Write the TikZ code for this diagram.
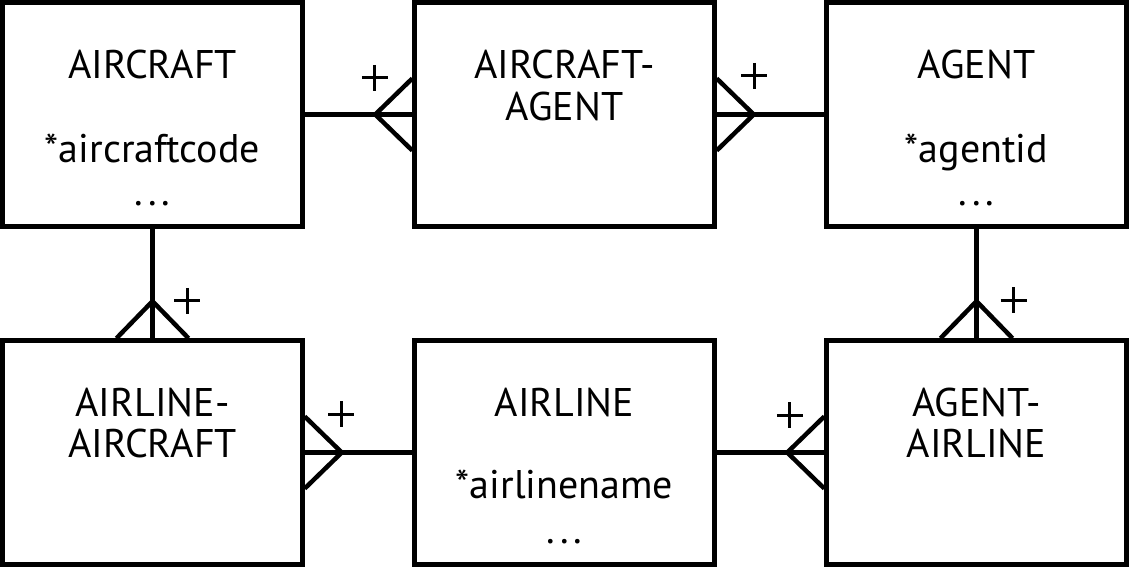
\documentclass[tikz,border=0pt]{standalone}
\usepackage{fontspec}
\setmainfont{PT Sans}
\usetikzlibrary{calc}
\tikzset{
  ent/.style={draw=black, line width=4.5pt, minimum width=300pt, minimum height=224pt, inner sep=0pt},
  lbl/.style={anchor=base, inner sep=0pt, font=\fontsize{40}{45}\selectfont},
  rel/.style={line width=4.5pt},
  plusline/.style={line width=3pt},
}
\newcommand{\mydots}{.\hspace{5pt}.\hspace{5pt}.}
\begin{document}
\begin{tikzpicture}[x=1pt,y=-1pt]
\useasboundingbox (0,0) rectangle (1129,567);
% boxes
\node[ent] (aircraft) at (152.5,114.5) {};
\node[ent] (acag) at (564.5,114.5) {};
\node[ent] (agent) at (976.5,114.5) {};
\node[ent] (alac) at (152.5,452.5) {};
\node[ent] (airline) at (564.5,452.5) {};
\node[ent] (agal) at (976.5,452.5) {};
% texts
\node[lbl] (t1) at (152.5,79) {AIRCRAFT};
\node[lbl] (t1a) at (152.5,162) {*aircraftcode};
\node[lbl] (t1b) at (152.5,205) {\mydots};
\node[lbl] (t2) at (564.5,79) {AIRCRAFT-};
\node[lbl] (t2b) at (564.5,121) {AGENT};
\node[lbl] (t3) at (976.5,79) {AGENT};
\node[lbl] (t3a) at (976.5,162) {*agentid};
\node[lbl] (t3b) at (976.5,205) {\mydots};
\node[lbl] (t4) at (152.5,416) {AIRLINE-};
\node[lbl] (t4b) at (152.5,457) {AIRCRAFT};
\node[lbl] (t5) at (564.5,416) {AIRLINE};
\node[lbl] (t5a) at (564.5,498) {*airlinename};
\node[lbl] (t5b) at (564.5,543) {\mydots};
\node[lbl] (t6) at (976.5,416) {AGENT-};
\node[lbl] (t6b) at (976.5,457) {AIRLINE};
% connectors
\draw[rel] (aircraft.east) -- (acag.west);
\draw[rel] (acag.east) -- (agent.west);
\draw[rel] (aircraft.south) -- (alac.north);
\draw[rel] (agent.south) -- (agal.north);
\draw[rel] (alac.east) -- (airline.west);
\draw[rel] (airline.east) -- (agal.west);
% crow's feet
\draw[rel] ($(acag.west)+(0,-36)$) -- ($(acag.west)+(-37,0)$) -- ($(acag.west)+(0,36)$);
\draw[rel] ($(acag.east)+(0,-36)$) -- ($(acag.east)+(37,0)$) -- ($(acag.east)+(0,36)$);
\draw[rel] ($(alac.north)+(-36,0)$) -- ($(alac.north)+(0,-37)$) -- ($(alac.north)+(36,0)$);
\draw[rel] ($(agal.north)+(-36,0)$) -- ($(agal.north)+(0,-37)$) -- ($(agal.north)+(36,0)$);
\draw[rel] ($(alac.east)+(0,-36)$) -- ($(alac.east)+(37,0)$) -- ($(alac.east)+(0,36)$);
\draw[rel] ($(agal.west)+(0,-36)$) -- ($(agal.west)+(-37,0)$) -- ($(agal.west)+(0,36)$);
% plus signs
\coordinate (p1) at ($(acag.west)+(-37.5,-36.5)$);
\coordinate (p2) at ($(acag.east)+(37.5,-38.5)$);
\coordinate (p3) at ($(alac.north)+(34.5,-37.5)$);
\coordinate (p4) at ($(agal.north)+(37,-38)$);
\coordinate (p5) at ($(alac.east)+(36.5,-38.5)$);
\coordinate (p6) at ($(agal.west)+(-34.5,-37.5)$);
\foreach \p in {p1,p2,p3,p4,p5,p6}{
  \draw[plusline] ($(\p)+(-13,0)$) -- ($(\p)+(13,0)$) ($(\p)+(0,-13)$) -- ($(\p)+(0,13)$);
}
\end{tikzpicture}
\end{document}
